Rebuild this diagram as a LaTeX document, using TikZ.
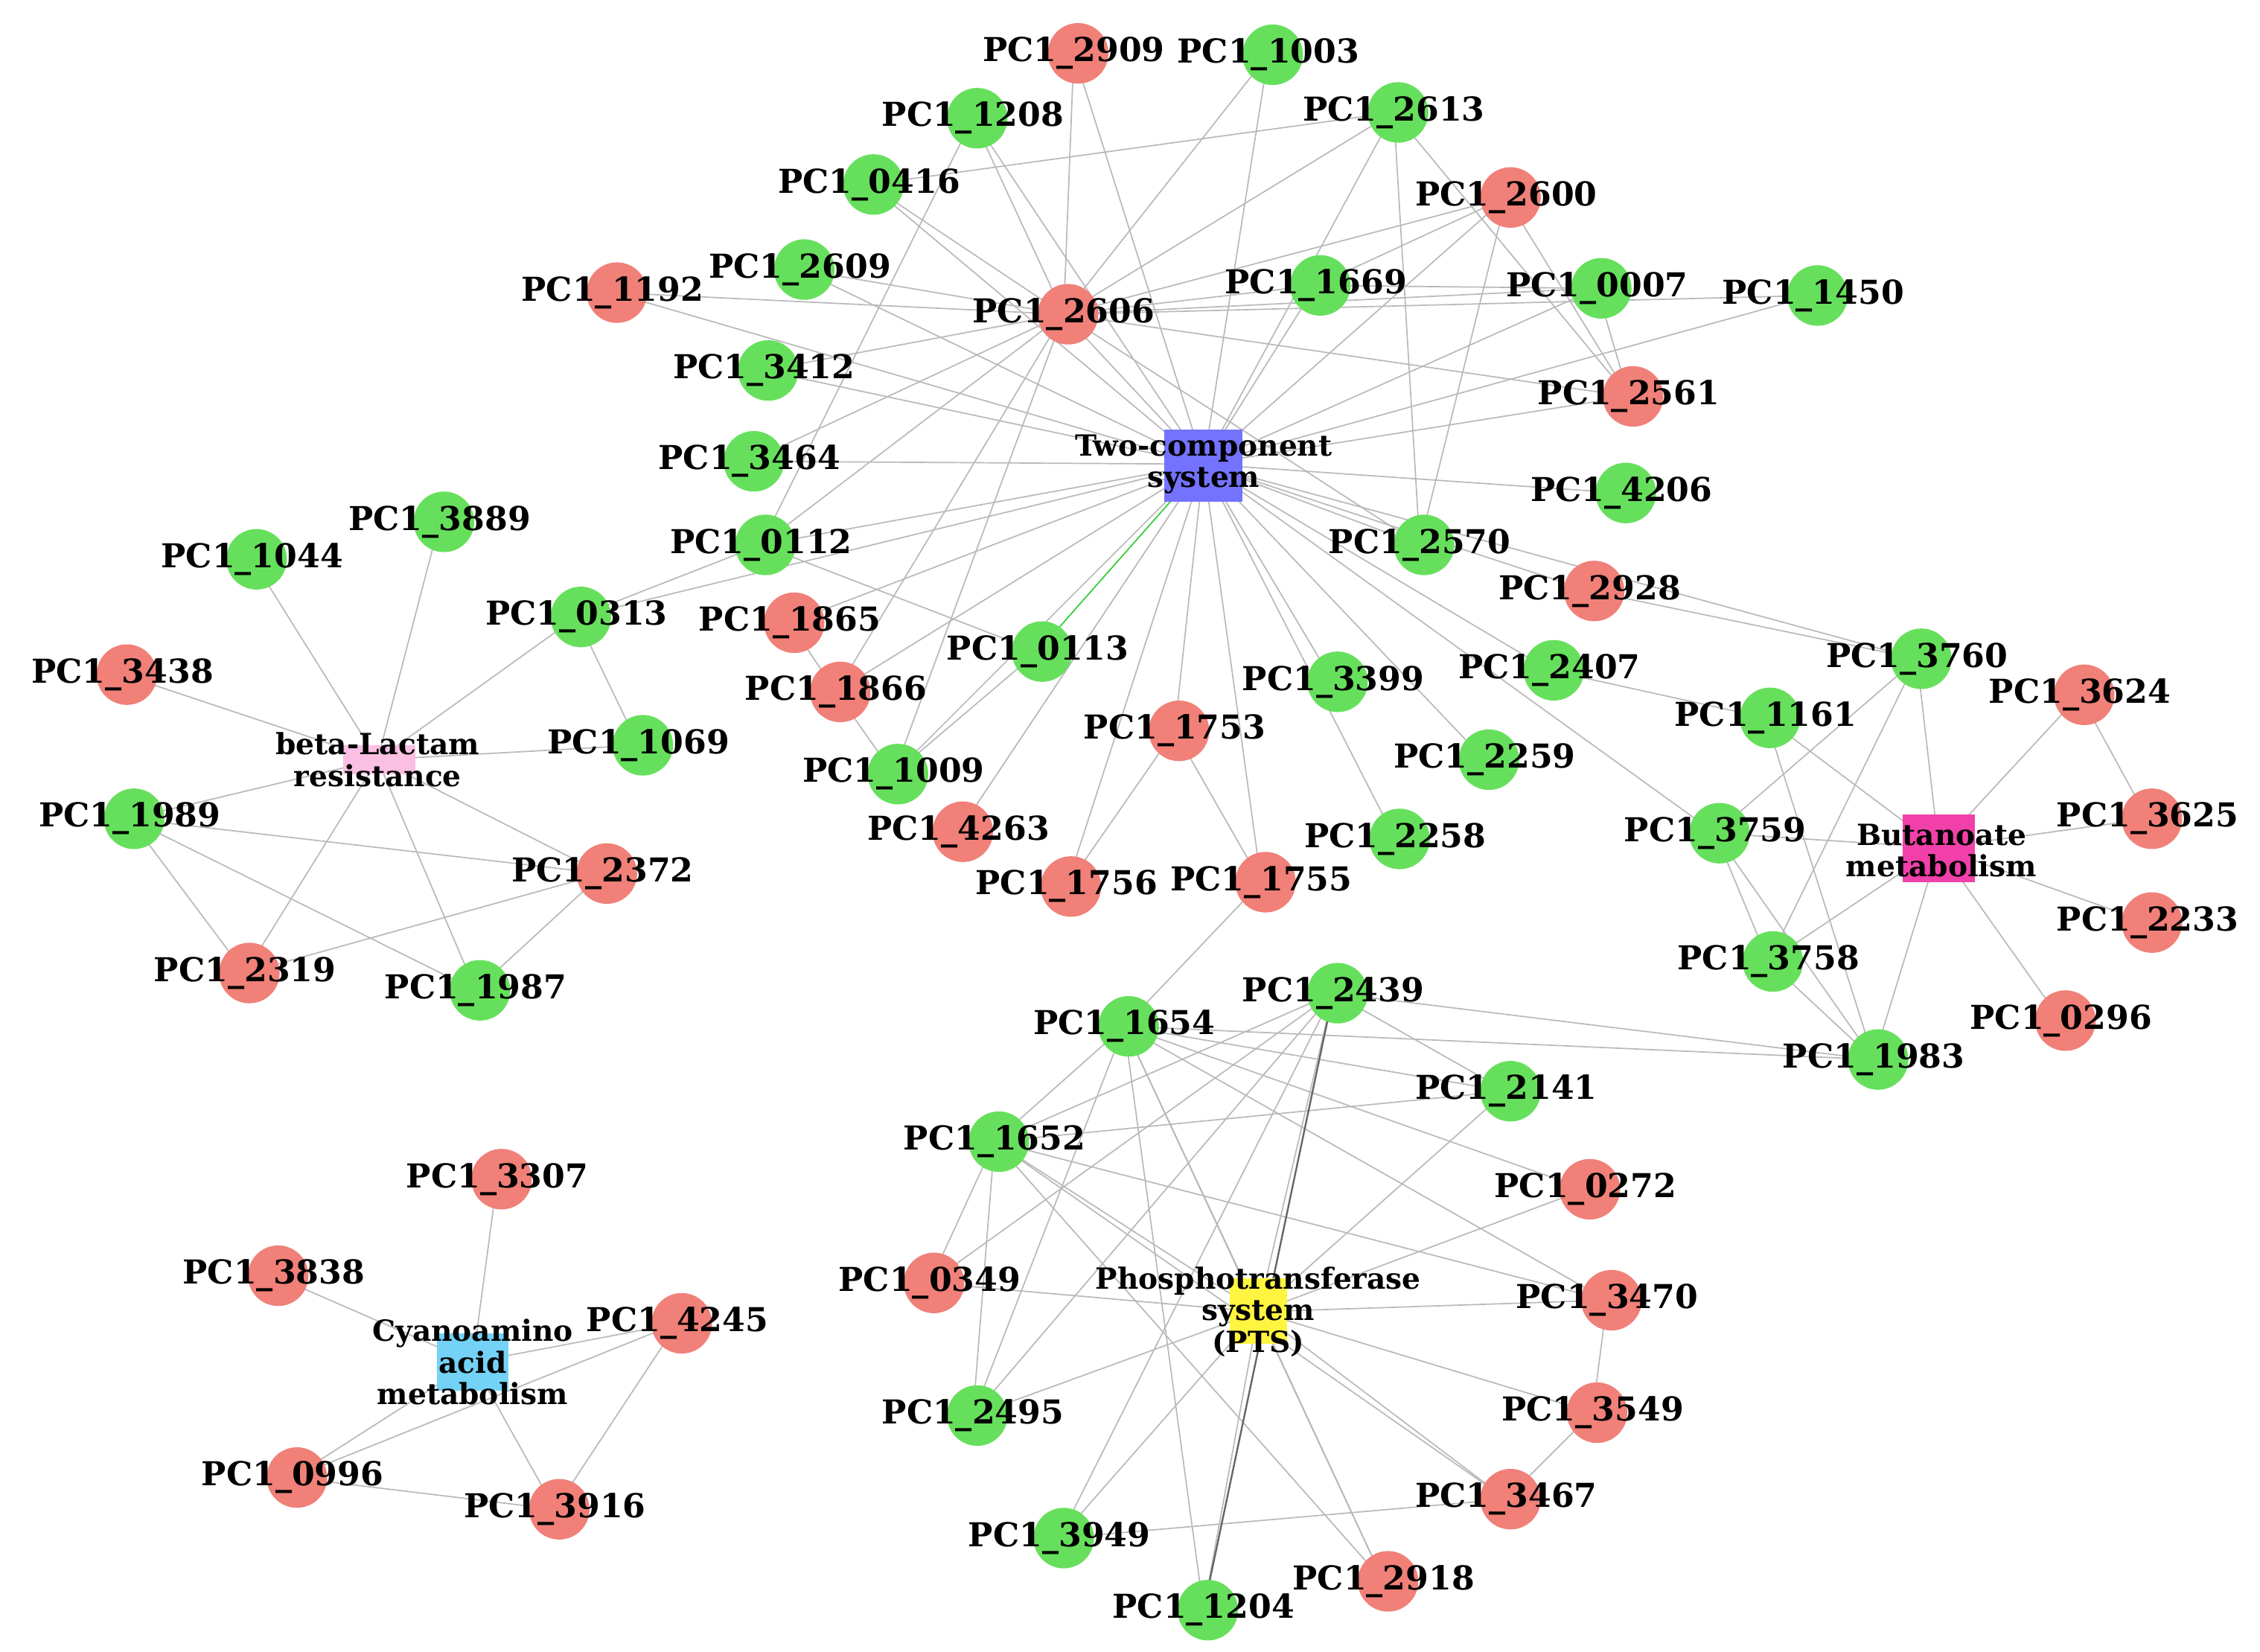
\documentclass[tikz,border=0pt]{standalone}
\usepackage{fontspec}
\setmainfont{DejaVu Serif}
\begin{document}
\begin{tikzpicture}[x=0.02cm,y=-0.02cm,
  lab/.style={font=\bfseries\fontsize{13}{14}\selectfont,inner sep=0pt},
  hubt/.style={font=\bfseries\fontsize{11.5}{12.5}\selectfont,inner sep=0pt,align=center},
  edge/.style={draw=gray!55,line width=0.5pt}]
\useasboundingbox (0,0) rectangle (1568,1146);
\fill[white] (0,0) rectangle (1568,1146);
\definecolor{gr}{RGB}{102,224,92}
\definecolor{rd}{RGB}{240,128,120}
% coordinates
\foreach \n/\x/\y/\c in {2909/745/37/r,1003/880/38/g,1208/675/82/g,2613/967/78/g,0416/603/128/g,2600/1045/137/r,2609/555/187/g,1192/425/203/r,2606/738/218/r,1669/913/198/g,0007/1108/200/g,1450/1258/205/g,3412/530/257/g,2561/1130/275/r,3464/520/320/g,4206/1125/342/g,0112/528/378/g,2570/985/378/g,3889/305/362/g,1044/175/388/g,2928/1103/410/r,0313/400/428/g,1865/548/432/r,0113/720/452/g,3438/85/468/r,1866/580/480/r,3399/925/473/g,2407/1075/465/g,3760/1330/457/g,3624/1443/482/r,1161/1225/498/g,1069/443/517/g,1753/815/507/r,1009/620/537/g,2259/1030/527/g,1989/90/568/g,4263/665/577/r,3759/1190/578/g,3625/1490/568/r,2258/968/582/g,2372/418/606/r,1756/740/615/r,1755/875/612/r,2233/1490/640/r,3758/1227/667/g,2319/170/675/r,1987/330/687/g,2439/925/689/g,1654/780/712/g,0296/1430/708/r,1983/1300/735/g,2141/1045/757/g,1652/690/792/g,3307/345/818/r,0272/1100/825/r,3838/190/885/r,0349/645/890/r,3470/1115/902/r,4245/470/918/r,3549/1105/980/r,2495/675/982/g,0996/203/1025/r,3916/385/1047/r,3467/1045/1040/r,3949/735/1067/g,2918/960/1097/r,1204/835/1117/g}
  {\coordinate (n\n) at (\x,\y);}
\coordinate (tc) at (835,322);
\coordinate (bl) at (262,527);
\coordinate (bu) at (1345,588);
\coordinate (pts) at (873,910);
\coordinate (cy) at (328,945);
% edges
\foreach \b in {2909,1003,1208,2613,0416,2600,2609,1192,2606,1669,0007,1450,3412,2561,3464,4206,0112,2570,0313,1865,1866,3399,2407,2928,3760,1753,1009,4263,2259,2258,1756,1755,3759}
  \path[edge] (tc) -- (n\b);
\draw[green!60!gray,line width=0.5pt] (tc) -- (n0113);
\foreach \a/\b in {2606/2600,2606/2613,2606/1669,2606/0007,2606/1208,2606/0416,2606/1192,2606/2609,2606/3412,2606/3464,2606/0112,2606/1009,2606/1866,2606/2561,2606/1450,2600/2561,2600/2570,2613/2570,2613/2561,1669/0007,0007/2561,2600/1669,2613/0416,0112/0113,0112/0313,1865/1866,1866/1009,0113/1009,1753/1756,1753/1755,1755/1654,2439/1983,1654/1983,2928/3760,2407/1161,2570/2606,1003/2606,2909/2606,1208/0112}
  \path[edge] (n\a) -- (n\b);
\foreach \b in {3760,3624,3625,2233,0296,1983,3758,3759,1161}
  \path[edge] (bu) -- (n\b);
\foreach \a/\b in {3760/3759,3760/3758,1161/1983,3759/3758,3624/3625,3759/1983,3758/1983}
  \path[edge] (n\a) -- (n\b);
\foreach \b in {1044,3889,0313,3438,1069,1989,2372,2319,1987}
  \path[edge] (bl) -- (n\b);
\foreach \a/\b in {0313/1069,1989/2372,1989/2319,1989/1987,2319/2372,1987/2372}
  \path[edge] (n\a) -- (n\b);
\foreach \b in {2439,1654,1652,0349,2141,0272,3470,3549,2495,3467,3949,2918,1204}
  \path[edge] (pts) -- (n\b);
\foreach \a/\b in {1654/2141,1654/0272,1654/3470,1652/2141,1652/2439,1652/3470,1652/3467,1652/2918,1652/2495,1654/2495,1654/1204,1654/2918,2439/0349,2439/2495,2439/3949,3470/3549,3549/3467,3467/3949,1652/0349,1654/1652,2439/2141}
  \path[edge] (n\a) -- (n\b);
\draw[gray!80!black,line width=0.7pt] (n2439) -- (n1204);
\foreach \b in {3307,3838,4245,0996,3916}
  \path[edge] (cy) -- (n\b);
\foreach \a/\b in {4245/3916,4245/0996,0996/3916}
  \path[edge] (n\a) -- (n\b);
% nodes
\foreach \n/\x/\y/\c in {2909/745/37/rd,1003/880/38/gr,1208/675/82/gr,2613/967/78/gr,0416/603/128/gr,2600/1045/137/rd,2609/555/187/gr,1192/425/203/rd,2606/738/218/rd,1669/913/198/gr,0007/1108/200/gr,1450/1258/205/gr,3412/530/257/gr,2561/1130/275/rd,3464/520/320/gr,4206/1125/342/gr,0112/528/378/gr,2570/985/378/gr,3889/305/362/gr,1044/175/388/gr,2928/1103/410/rd,0313/400/428/gr,1865/548/432/rd,0113/720/452/gr,3438/85/468/rd,1866/580/480/rd,3399/925/473/gr,2407/1075/465/gr,3760/1330/457/gr,3624/1443/482/rd,1161/1225/498/gr,1069/443/517/gr,1753/815/507/rd,1009/620/537/gr,2259/1030/527/gr,1989/90/568/gr,4263/665/577/rd,3759/1190/578/gr,3625/1490/568/rd,2258/968/582/gr,2372/418/606/rd,1756/740/615/rd,1755/875/612/rd,2233/1490/640/rd,3758/1227/667/gr,2319/170/675/rd,1987/330/687/gr,2439/925/689/gr,1654/780/712/gr,0296/1430/708/rd,1983/1300/735/gr,2141/1045/757/gr,1652/690/792/gr,3307/345/818/rd,0272/1100/825/rd,3838/190/885/rd,0349/645/890/rd,3470/1115/902/rd,4245/470/918/rd,3549/1105/980/rd,2495/675/982/gr,0996/203/1025/rd,3916/385/1047/rd,3467/1045/1040/rd,3949/735/1067/gr,2918/960/1097/rd,1204/835/1117/gr}
  {\fill[\c] (\x+3,\y) circle (21);
   \node[lab] at (\x,\y) {PC1\_\n};}
\fill[blue!55!white] (808,298) rectangle (862,348);
\node[hubt] at (tc) {Two-component\\system};
\fill[magenta!25!white] (238,517) rectangle (288,537);
\node[hubt] at (bl) {beta-Lactam\\resistance};
\fill[magenta!75!white] (1320,565) rectangle (1370,612);
\node[hubt] at (1347,590) {Butanoate\\metabolism};
\fill[yellow!75!white] (853,887) rectangle (893,932);
\node[hubt] at (pts) {Phosphotransferase\\system\\(PTS)};
\fill[cyan!55!white] (303,925) rectangle (353,965);
\node[hubt] at (cy) {Cyanoamino\\acid\\metabolism};
\end{tikzpicture}
\end{document}
